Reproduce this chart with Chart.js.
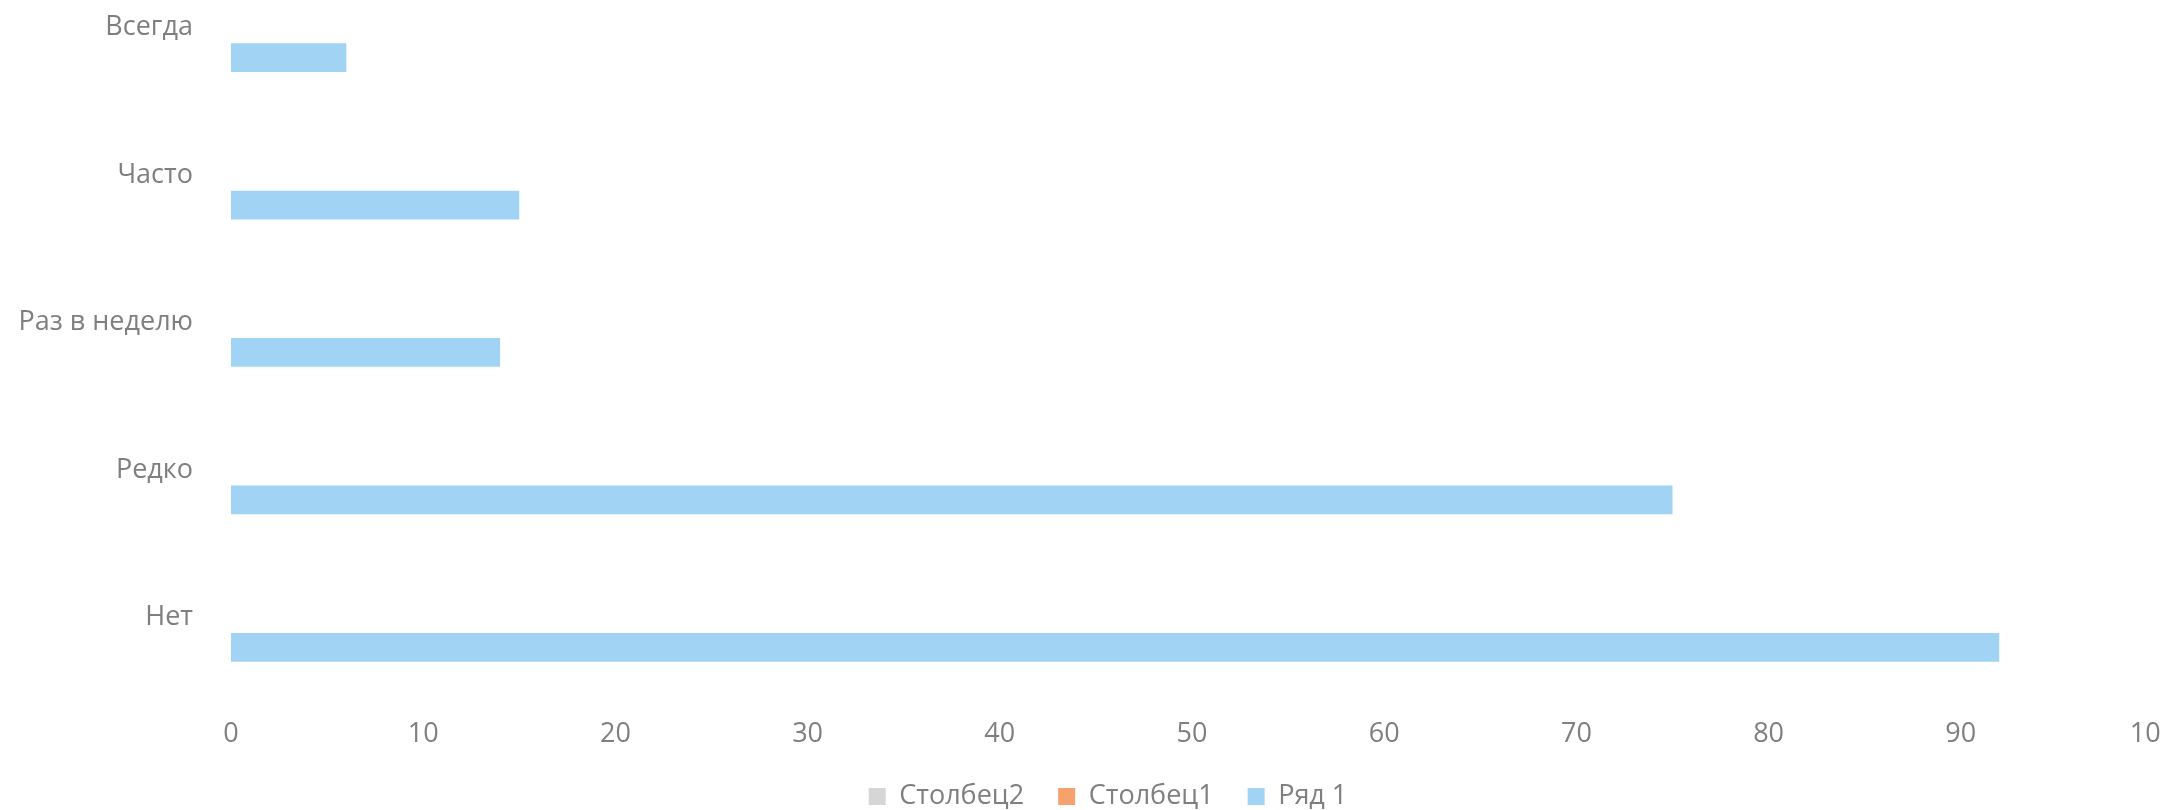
<!DOCTYPE html>
<html lang="ru">
<head>
    <meta charset="UTF-8" />
    <title>Частота</title>
    <style>
        html, body {
            margin: 0;
            padding: 0;
            width: 2160px;
            height: 810px;
            overflow: hidden;
            background: #ffffff;
        }
        .wrap {
            position: absolute;
            left: 0;
            top: -46px;
            width: 2216px;
            height: 866px;
        }
    </style>
    <script src="https://cdn.jsdelivr.net/npm/chart.js"></script>
</head>
<body>
    <div class="wrap">
        <canvas id="chart"></canvas>
    </div>
    <script>
        const categories = ['Всегда', 'Часто', 'Раз в неделю', 'Редко', 'Нет'];
        const series1 = [6, 15, 14, 75, 92];       // Ряд 1
        const column1 = [null, null, null, null, null]; // Столбец1
        const column2 = [null, null, null, null, null]; // Столбец2
        const xTicks = [0, 10, 20, 30, 40, 50, 60, 70, 80, 90, 100];

        const textColor = '#7f7f7f';
        const font = { family: "'Open Sans', sans-serif", size: 27 };

        new Chart(document.getElementById('chart'), {
            type: 'bar',
            data: {
                labels: categories,
                datasets: [
                    { label: 'Столбец2', data: column2, backgroundColor: '#d6d6d6' },
                    { label: 'Столбец1', data: column1, backgroundColor: '#f5a26f' },
                    { label: 'Ряд 1', data: series1, backgroundColor: '#a0d3f4' }
                ]
            },
            options: {
                indexAxis: 'y',
                responsive: true,
                maintainAspectRatio: false,
                animation: false,
                datasets: {
                    bar: { categoryPercentage: 0.61, barPercentage: 0.96 }
                },
                layout: { padding: 0 },
                scales: {
                    x: {
                        min: 0,
                        max: 100,
                        afterBuildTicks: s => { s.ticks = xTicks.map(v => ({ value: v })); },
                        // fixed axis band so the legend lands where it should
                        afterFit: s => { s.paddingRight = 63; s.paddingLeft = 0; s.height = 58; },
                        grid: { display: false, drawTicks: false },
                        border: { display: false },
                        ticks: { color: textColor, font: font, padding: 27, maxRotation: 0 }
                    },
                    y: {
                        afterFit: s => { s.width = 231; s.paddingTop = 0; s.paddingBottom = 0; },
                        grid: { display: false, drawTicks: false },
                        border: { display: false },
                        ticks: { color: textColor, font: font, padding: 38 }
                    }
                },
                plugins: {
                    legend: {
                        position: 'bottom',
                        labels: {
                            color: textColor,
                            font: font,
                            boxWidth: 17,
                            boxHeight: 17,
                            padding: 34
                        }
                    },
                    tooltip: { enabled: false }
                }
            }
        });
    </script>
</body>
</html>
